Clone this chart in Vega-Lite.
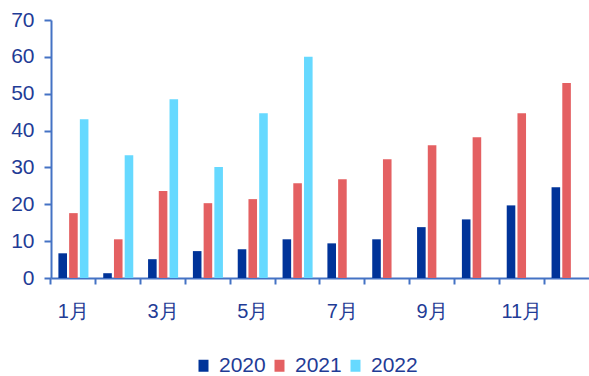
{
  "$schema": "https://vega.github.io/schema/vega-lite/v6.json",
  "width": 538,
  "height": 258,
  "autosize": {"type": "none"},
  "padding": {"left": 51, "top": 20, "right": 0, "bottom": 98},
  "background": "white",
  "config": {
    "view": {"stroke": null},
    "font": "Liberation Sans"
  },
  "data": {
    "values": [
      {"month": "1月", "year": "2020", "value": 6.7},
      {"month": "1月", "year": "2021", "value": 17.6},
      {"month": "1月", "year": "2022", "value": 43.1},
      {"month": "2月", "year": "2020", "value": 1.3},
      {"month": "2月", "year": "2021", "value": 10.5},
      {"month": "2月", "year": "2022", "value": 33.3},
      {"month": "3月", "year": "2020", "value": 5.1},
      {"month": "3月", "year": "2021", "value": 23.6},
      {"month": "3月", "year": "2022", "value": 48.5},
      {"month": "4月", "year": "2020", "value": 7.3},
      {"month": "4月", "year": "2021", "value": 20.3},
      {"month": "4月", "year": "2022", "value": 30.1},
      {"month": "5月", "year": "2020", "value": 7.8},
      {"month": "5月", "year": "2021", "value": 21.4},
      {"month": "5月", "year": "2022", "value": 44.7},
      {"month": "6月", "year": "2020", "value": 10.5},
      {"month": "6月", "year": "2021", "value": 25.7},
      {"month": "6月", "year": "2022", "value": 60.0},
      {"month": "7月", "year": "2020", "value": 9.4},
      {"month": "7月", "year": "2021", "value": 26.8},
      {"month": "8月", "year": "2020", "value": 10.5},
      {"month": "8月", "year": "2021", "value": 32.2},
      {"month": "9月", "year": "2020", "value": 13.8},
      {"month": "9月", "year": "2021", "value": 36.0},
      {"month": "10月", "year": "2020", "value": 15.9},
      {"month": "10月", "year": "2021", "value": 38.2},
      {"month": "11月", "year": "2020", "value": 19.7},
      {"month": "11月", "year": "2021", "value": 44.7},
      {"month": "12月", "year": "2020", "value": 24.6},
      {"month": "12月", "year": "2021", "value": 52.9}
    ]
  },
  "mark": {"type": "bar"},
  "encoding": {
    "x": {
      "field": "month",
      "type": "nominal",
      "sort": ["1月","2月","3月","4月","5月","6月","7月","8月","9月","10月","11月","12月"],
      "scale": {"paddingInner": 0.33, "paddingOuter": 0.165},
      "axis": {
        "title": null,
        "bandPosition": -0.2463,
        "labelAngle": 0,
        "labelExpr": "indexof(['1月','3月','5月','7月','9月','11月'], datum.value) >= 0 ? datum.value : ''",
        "labelFontSize": 20,
        "labelColor": "#1F3C96",
        "labelPadding": 17,
        "labelOverlap": false,
        "domainColor": "#4472C4",
        "domainWidth": 2,
        "tickColor": "#4472C4",
        "tickWidth": 2,
        "tickSize": 6,
        "grid": false
      }
    },
    "xOffset": {
      "field": "year",
      "type": "nominal",
      "scale": {"paddingInner": 0.2}
    },
    "y": {
      "field": "value",
      "type": "quantitative",
      "scale": {"domain": [0, 70], "nice": false},
      "axis": {
        "title": null,
        "values": [0, 10, 20, 30, 40, 50, 60, 70],
        "grid": false,
        "labelFontSize": 21,
        "labelColor": "#1F3C96",
        "labelPadding": 10,
        "domainColor": "#4472C4",
        "domainWidth": 2,
        "tickColor": "#4472C4",
        "tickWidth": 2,
        "tickSize": 7
      }
    },
    "color": {
      "field": "year",
      "type": "nominal",
      "scale": {"domain": ["2020", "2021", "2022"], "range": ["#003399", "#E46062", "#66D9FF"]},
      "legend": {
        "title": null,
        "orient": "none",
        "direction": "horizontal",
        "legendX": 142,
        "legendY": 335,
        "padding": 0,
        "symbolType": "M-0.833,-1H0.833V1H-0.833Z",
        "symbolSize": 144,
        "symbolStrokeWidth": 0,
        "labelFontSize": 21,
        "labelLimit": 300,
        "labelColor": "#1F3C96",
        "labelOffset": 5,
        "columnPadding": 3
      }
    }
  }
}
